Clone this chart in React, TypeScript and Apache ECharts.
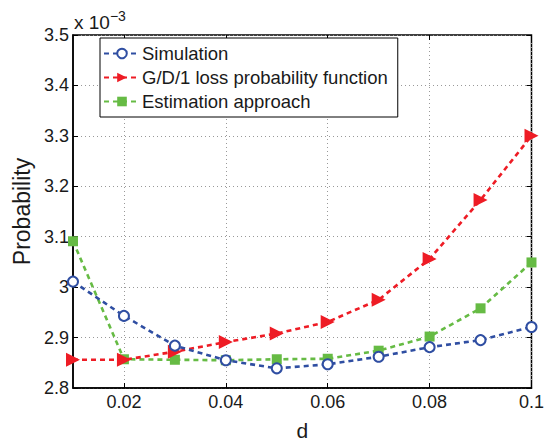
import React, { useEffect, useRef } from "react";
import * as echarts from "echarts";

const dValues = [0.01, 0.02, 0.03, 0.04, 0.05, 0.06, 0.07, 0.08, 0.09, 0.1];
const simulation = [3.011, 2.943, 2.884, 2.855, 2.839, 2.847, 2.862, 2.881, 2.895, 2.921];
const gd1Loss = [2.856, 2.856, 2.872, 2.891, 2.908, 2.931, 2.975, 3.056, 3.173, 3.3];
const estimation = [3.091, 2.857, 2.856, 2.855, 2.857, 2.858, 2.874, 2.902, 2.958, 3.049];
const xTicks = [0.02, 0.04, 0.06, 0.08, 0.1];
const seriesNames = ["Simulation", "G/D/1 loss probability function", "Estimation approach"];

const BLUE = "#2f4ea2";
const RED = "#ee1c25";
const GREEN = "#66bb44";
const FONT = "'Liberation Sans', Arial, Helvetica, sans-serif";

export default function App() {
  const ref = useRef<HTMLDivElement>(null);
  useEffect(() => {
    if (!ref.current) return;
    const chart = echarts.init(ref.current, null, { renderer: "svg" });
    const pairs = (ys: number[]) => dValues.map((d, i) => [d, ys[i]]);
    const dash = [5, 4];
    const grid = { color: "#999", type: [1, 3], width: 1 };
    chart.setOption({
      animation: false,
      backgroundColor: "#ffffff",
      textStyle: { fontFamily: FONT },
      grid: {
        left: 73,
        right: 14,
        top: 35,
        bottom: 50,
        show: true,
        borderColor: "#000",
        borderWidth: 1.5,
      },
      legend: {
        left: 100,
        top: 38,
        orient: "vertical",
        backgroundColor: "#fff",
        borderColor: "#000",
        borderWidth: 1,
        padding: [6, 10, 6, 3],
        itemWidth: 36,
        itemHeight: 12,
        itemGap: 5,
        textStyle: { fontSize: 18.5, color: "#1a1a1a", fontFamily: FONT, padding: [0, 0, 0, -3] },
        data: seriesNames,
      },
      graphic: [
        {
          type: "text",
          left: 74,
          top: 9,
          style: {
            text: "x 10{sup|−3}",
            font: `19px ${FONT}`,
            fill: "#1a1a1a",
            rich: {
              sup: { fontSize: 14, verticalAlign: "top", padding: [0, 0, 12, 0], fill: "#1a1a1a", fontFamily: FONT },
            },
          },
        },
      ],
      xAxis: [
        {
          type: "value",
          min: 0.01,
          max: 0.1,
          name: "d",
          nameLocation: "middle",
          nameGap: 32,
          nameTextStyle: { fontSize: 21, color: "#1a1a1a", fontFamily: FONT },
          axisLine: { show: true, lineStyle: { color: "#000", width: 1.5 } },
          axisTick: { show: true, inside: true, length: 5, customValues: xTicks, lineStyle: { color: "#000" } },
          axisLabel: {
            customValues: xTicks,
            fontSize: 18,
            color: "#1a1a1a",
            margin: 5,
            fontFamily: FONT,
            formatter: (v: number) => String(Math.round(v * 100) / 100),
          },
          splitLine: { show: true, lineStyle: grid },
        },
        {
          type: "value",
          position: "top",
          min: 0.01,
          max: 0.1,
          axisLine: { show: false },
          axisTick: { show: true, inside: true, length: 5, customValues: xTicks, lineStyle: { color: "#000" } },
          axisLabel: { show: false },
          splitLine: { show: false },
        },
      ],
      yAxis: [
        {
          type: "value",
          min: 2.8,
          max: 3.5,
          interval: 0.1,
          name: "Probability",
          nameLocation: "middle",
          nameGap: 40,
          nameTextStyle: { fontSize: 23, color: "#1a1a1a", fontFamily: FONT },
          axisLine: { show: true, lineStyle: { color: "#000", width: 1.5 } },
          axisTick: { show: true, inside: true, length: 5, lineStyle: { color: "#000" } },
          axisLabel: {
            fontSize: 18,
            color: "#1a1a1a",
            margin: 4,
            fontFamily: FONT,
            formatter: (v: number) => String(Math.round(v * 10) / 10),
          },
          splitLine: { show: true, lineStyle: grid },
        },
        {
          type: "value",
          position: "right",
          min: 2.8,
          max: 3.5,
          interval: 0.1,
          axisLine: { show: false },
          axisTick: { show: true, inside: true, length: 5, lineStyle: { color: "#000" } },
          axisLabel: { show: false },
          splitLine: { show: false },
        },
      ],
      series: [
        {
          name: seriesNames[0],
          type: "line",
          data: pairs(simulation),
          symbol: "emptyCircle",
          symbolSize: 10,
          itemStyle: { color: BLUE, borderWidth: 2.2 },
          lineStyle: { color: BLUE, width: 2.6, type: dash },
          z: 4,
        },
        {
          name: seriesNames[1],
          type: "line",
          data: pairs(gd1Loss),
          symbol: "triangle",
          symbolRotate: -90,
          symbolSize: 14,
          itemStyle: { color: RED },
          lineStyle: { color: RED, width: 2.6, type: dash },
          z: 3,
        },
        {
          name: seriesNames[2],
          type: "line",
          data: pairs(estimation),
          symbol: "rect",
          symbolSize: 10,
          itemStyle: { color: GREEN },
          lineStyle: { color: GREEN, width: 2.6, type: dash },
          z: 2,
        },
      ],
    });
    return () => chart.dispose();
  }, []);
  return <div ref={ref} style={{ width: 547, height: 446, position: "absolute", left: 0, top: 0 }} />;
}
